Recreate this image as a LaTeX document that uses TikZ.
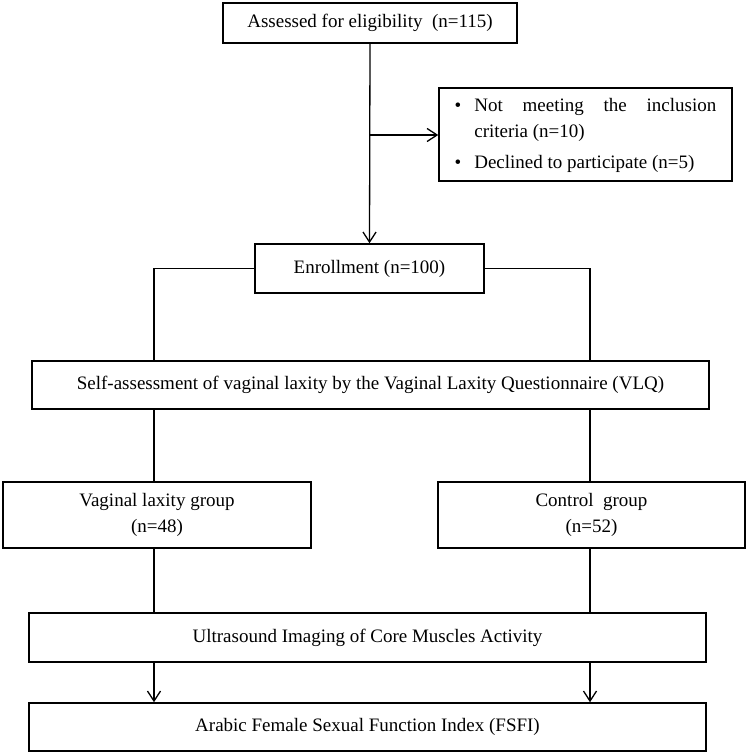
\documentclass[tikz,border=0pt]{standalone}
\usepackage{fontspec}
\setmainfont{Liberation Serif}
\usetikzlibrary{arrows.meta}
\begin{document}
\begin{tikzpicture}[x=1pt,y=-1pt,
  box/.style={draw=black, line width=1.5pt, rectangle, inner sep=0pt, align=center,
    font=\fontsize{19}{26}\selectfont},
  conn/.style={draw=black, line width=1.3pt},
  arr/.style={conn, -{Straight Barb[length=10pt,width=13pt,line width=1.3pt]}}
]
\fill[white] (0,0) rectangle (748,755);
\useasboundingbox (0,0) rectangle (748,755);

\node[box, minimum width=294pt, minimum height=40pt] (assess) at (370,23) {Assessed for eligibility\ \ (n=115)};
\node[box, minimum width=293pt, minimum height=93pt, inner xsep=15pt, align=left] (excl) at (585.5,134.5)
  {\begin{tabular}{@{}l@{\hspace{13pt}}l@{}}
   \textbullet & \makebox[242pt][s]{Not meeting the inclusion}\\
               & criteria (n=10)\\[5pt]
   \textbullet & Declined to participate (n=5)
   \end{tabular}};
\node[box, minimum width=229pt, minimum height=49pt] (enroll) at (369.5,268.5) {Enrollment (n=100)};
\node[box, minimum width=677pt, minimum height=48pt] (vlq) at (370.5,385) {Self-assessment of vaginal laxity by the Vaginal Laxity Questionnaire (VLQ)};
\node[box, minimum width=308pt, minimum height=66pt] (lax) at (157,515) {Vaginal laxity group\\(n=48)};
\node[box, minimum width=307pt, minimum height=66pt] (ctrl) at (591.5,515) {Control\ \ group\\(n=52)};
\node[box, minimum width=677pt, minimum height=49pt] (us) at (367.5,637.5) {Ultrasound Imaging of Core Muscles Activity};
\node[box, minimum width=677pt, minimum height=48pt] (fsfi) at (367.5,727) {Arabic Female Sexual Function Index (FSFI)};

\coordinate (cl) at (154,0);
\coordinate (cr) at (590,0);
\coordinate (br) at (370,135);

\draw[arr] (assess.south) -- (enroll.north);
\draw[arr] (br) -- (br -| excl.west);

\draw[conn] (enroll.west) -| (cl |- vlq.north);
\draw[conn] (enroll.east) -| (cr |- vlq.north);

\draw[conn] (cl |- vlq.south) -- (cl |- lax.north);
\draw[conn] (cr |- vlq.south) -- (cr |- ctrl.north);

\draw[conn] (cl |- lax.south) -- (cl |- us.north);
\draw[conn] (cr |- ctrl.south) -- (cr |- us.north);

\draw[arr] (cl |- us.south) -- (cl |- fsfi.north);
\draw[arr] (cr |- us.south) -- (cr |- fsfi.north);
\end{tikzpicture}
\end{document}
